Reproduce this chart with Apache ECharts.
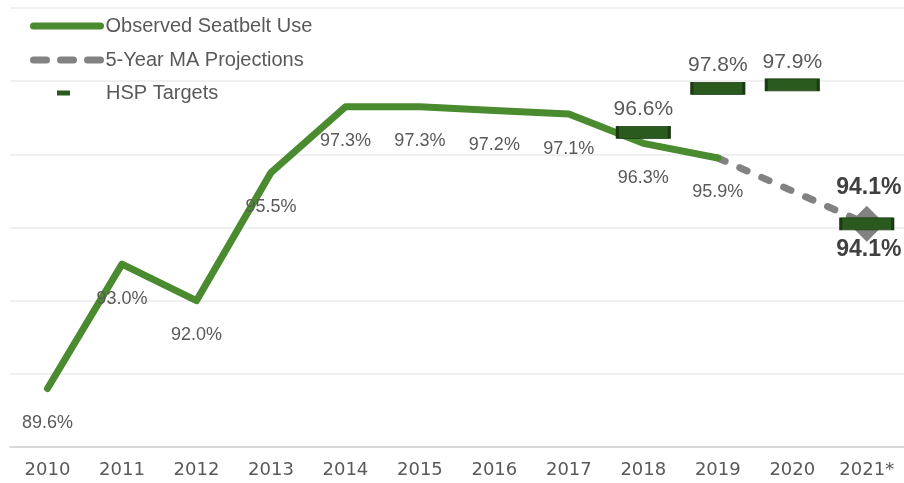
<!DOCTYPE html>
<html>
<head>
<meta charset="utf-8">
<script src="https://cdn.jsdelivr.net/npm/echarts@6/dist/echarts.min.js"></script>
<style>
html,body{margin:0;padding:0;background:#fff;}
#chart{width:904px;height:483px;}
</style>
</head>
<body>
<div id="chart"></div>
<script>
var years = ['2010','2011','2012','2013','2014','2015','2016','2017','2018','2019','2020','2021*'];
var observed = [89.6, 93.0, 92.0, 95.5, 97.3, 97.3, 97.2, 97.1, 96.3, 95.9, null, null];
var projections = [null, null, null, null, null, null, null, null, null, 95.9, 95.0, 94.1];
var targets = [null, null, null, null, null, null, null, null, 96.6, 97.8, 97.9, 94.1];

var GREEN = '#4b8b30';
var GRAY = '#828282';
var DARK = '#2b5a1f';
var LABEL = '#595959';
var fmt = function (p) { return (Array.isArray(p.value) ? p.value[1] : p.value).toFixed(1) + '%'; };

var lastIdx = years.length - 1;
var projData = projections.map(function (v, i) {
  if (i === lastIdx) {
    return {
      value: v, symbol: 'diamond', symbolSize: 36,
      itemStyle: { color: GRAY },
      label: { show: true, position: 'top', distance: 7, offset: [2, 0], fontFamily: 'Liberation Sans', fontWeight: 'bold', fontSize: 23, color: '#404040', formatter: fmt }
    };
  }
  return { value: v, symbol: 'none' };
});
var targetData = targets.map(function (v, i) {
  if (i === lastIdx) {
    return { value: v, label: { position: 'bottom', distance: 8, offset: [2, 0], fontWeight: 'bold', fontSize: 23, color: '#404040' } };
  }
  return v;
});

var chart = echarts.init(document.getElementById('chart'), null, { renderer: 'canvas' });
chart.setOption({
  animation: false,
  backgroundColor: '#ffffff',
  grid: { left: 10.25, right: -5.05, top: 8, bottom: 36 },
  legend: [
    {
      data: [
        { name: 'Observed Seatbelt Use' },
        { name: '5-Year MA Projections', lineStyle: { type: [13, 14] } }
      ],
      orient: 'vertical', left: 25, top: 11,
      itemWidth: 67, itemHeight: 20, itemGap: 14,
      lineStyle: { width: 7, cap: 'round' },
      textStyle: { fontFamily: 'Liberation Sans', fontSize: 20, color: LABEL },
      selectedMode: false
    },
    {
      data: [{ name: 'HSP Targets', icon: 'rect' }],
      orient: 'vertical', left: 52, top: 78,
      itemWidth: 13, itemHeight: 5,
      itemStyle: { borderWidth: 0 },
      textStyle: { fontFamily: 'Liberation Sans', fontSize: 20, color: LABEL, padding: [0, 0, 0, 31] },
      selectedMode: false
    }
  ],
  xAxis: {
    type: 'category', data: years, boundaryGap: true,
    axisLine: { lineStyle: { color: '#d9d9d9', width: 2 } },
    axisTick: { show: false },
    axisLabel: { fontFamily: 'DejaVu Sans', fontSize: 18, color: LABEL, margin: 14 }
  },
  yAxis: {
    type: 'value', min: 88, max: 100, interval: 2,
    axisLabel: { show: false }, axisLine: { show: false }, axisTick: { show: false },
    splitLine: { lineStyle: { color: '#ebebeb', width: 1.5 } }
  },
  series: [
    {
      name: '5-Year MA Projections', type: 'line', data: projData, z: 2,
      symbol: 'none', showSymbol: true,
      lineStyle: { color: GRAY, width: 7, type: [8, 16], cap: 'round' },
      itemStyle: { color: 'rgba(0,0,0,0)' },
      emphasis: { disabled: true }
    },
    {
      name: 'Observed Seatbelt Use', type: 'line', data: observed, z: 3,
      symbol: 'circle', symbolSize: 1, showSymbol: true,
      lineStyle: { color: GREEN, width: 7, cap: 'round', join: 'round' },
      itemStyle: { color: 'rgba(0,0,0,0)' },
      label: { show: true, position: 'bottom', distance: 25, fontFamily: 'Liberation Sans', fontSize: 18, color: LABEL, formatter: fmt },
      emphasis: { disabled: true }
    },
    {
      name: 'HSP Targets', type: 'scatter', data: targetData, z: 4,
      symbol: 'rect', symbolSize: [52, 12],
      itemStyle: { color: DARK, borderColor: '#1a3a12', borderWidth: 1.5, opacity: 1 },
      label: { show: true, position: 'top', distance: 6, fontFamily: 'Liberation Sans', fontSize: 21, color: LABEL, formatter: fmt },
      emphasis: { disabled: true }
    }
  ]
});
</script>
</body>
</html>
